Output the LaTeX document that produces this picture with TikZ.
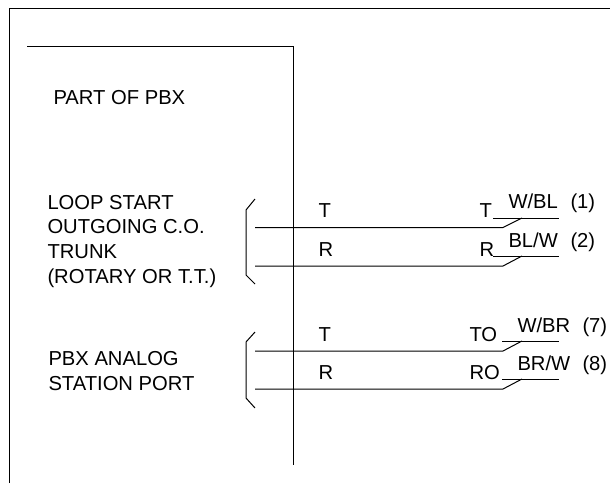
\documentclass[tikz,border=0pt]{standalone}
\usepackage{fontspec}
\setmainfont{Liberation Sans}
\begin{document}
\begin{tikzpicture}[
        x=1pt, y=-1pt,
        every path/.style={line width=1pt},
        label text/.style={inner sep=0pt, anchor=base west, font=\fontsize{20.2}{26.5}\selectfont, align=left},
    ]
        \useasboundingbox (0,0) rectangle (610,483);
        % frame and pbx outline
        \draw (9,483) -- (9,8) -- (610,8);
        \coordinate (pbx-a) at (27,46);
        \coordinate (pbx-b) at (293,46);
        \coordinate (pbx-c) at (293,465);
        \draw (pbx-a) -- (pbx-b) -- (pbx-c);

        \node[label text] (title) at (53,104) {PART OF PBX};
        \node[label text] (trunk-1) at (47,209) {LOOP START};
        \node[label text] (trunk-2) at (47,233) {OUTGOING C.O.};
        \node[label text] (trunk-3) at (47,258) {TRUNK};
        \node[label text] (trunk-4) at (47,283) {(ROTARY OR T.T.)};
        \node[label text] (port-1) at (48,365) {PBX ANALOG};
        \node[label text] (port-2) at (48,390) {STATION PORT};

        % trunk wires
        \foreach \name/\ya/\yb in {t1/227.5/218, r1/266/256, t2/351/341, r2/389/379} {
            \coordinate (\name-a) at (255,\ya);
            \coordinate (\name-b) at (503,\ya);
            \coordinate (\name-c) at (522,\yb);
            \coordinate (\name-d) at (559,\yb);
            \draw (\name-a) -- (\name-b) -- (\name-c);
        }
        \coordinate (t1-e) at (493,218);
        \coordinate (r1-e) at (493,256);
        \coordinate (t2-e) at (502,341);
        \coordinate (r2-e) at (502,379);
        \foreach \name in {t1, r1, t2, r2}
            \draw (\name-e) -- (\name-d);

        % brackets
        \foreach \name/\ya/\yb/\yc/\yd in {b1/199/210/275/284, b2/332/342/398/408} {
            \coordinate (\name-a) at (255,\ya);
            \coordinate (\name-b) at (246,\yb);
            \coordinate (\name-c) at (246,\yc);
            \coordinate (\name-d) at (255,\yd);
            \draw (\name-a) -- (\name-b) -- (\name-c) -- (\name-d);
        }

        \node[label text] (t1-in) at (318,217.5) {T};
        \node[label text] (r1-in) at (318,256) {R};
        \node[label text] (t2-in) at (318,341) {T};
        \node[label text] (r2-in) at (318,379) {R};
        \node[label text] (t1-out) at (479,217.5) {T};
        \node[label text] (r1-out) at (479,256) {R};
        \node[label text] (t2-out) at (469,341) {TO};
        \node[label text] (r2-out) at (469,379) {RO};
        \node[label text] (t1-wire) at (508,208) {W/BL};
        \node[label text] (r1-wire) at (508,247) {BL/W};
        \node[label text] (t2-wire) at (517,332) {W/BR};
        \node[label text] (r2-wire) at (517,370) {BR/W};
        \node[label text] (t1-pin) at (570,208) {(1)};
        \node[label text] (r1-pin) at (570,247) {(2)};
        \node[label text] (t2-pin) at (582,332) {(7)};
        \node[label text] (r2-pin) at (582,370) {(8)};
    \end{tikzpicture}
\end{document}
